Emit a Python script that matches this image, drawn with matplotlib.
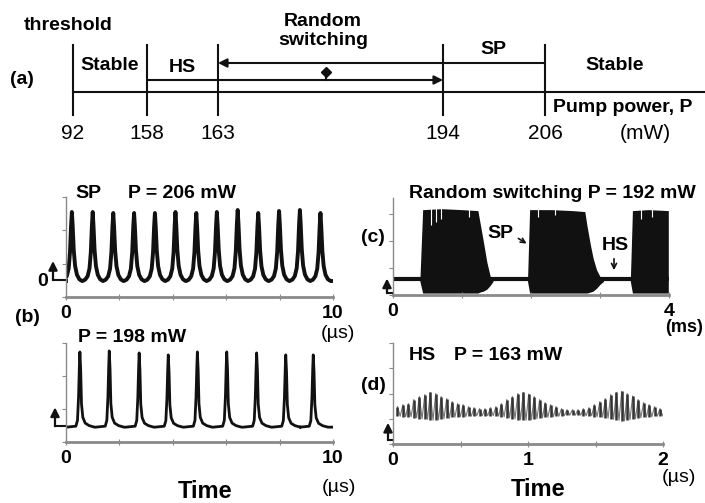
import numpy as np
import matplotlib
matplotlib.use("Agg")
import matplotlib.pyplot as plt

plt.rcParams['font.family'] = ['Liberation Sans', 'DejaVu Sans']

W, H = 705, 503

# (a) pump power thresholds (mW) and the regime names between them
powers = [92, 158, 163, 194, 206]
regimes = ["Stable", "HS", "SP", "Stable"]

# (b) top: SP regime, P = 206 mW. Pulse peak times (us) and peak levels
sp_peak_t = [0.22, 1.00, 1.77, 2.55, 3.33, 4.10, 4.88, 5.65, 6.43, 7.20, 7.98, 8.76, 9.53]
sp_peak_y = [0.85, 0.85, 0.84, 0.84, 0.84, 0.85, 0.84, 0.85, 0.87, 0.84, 0.86, 0.87, 0.84]
sp_base = 0.16
# one pulse: offset from peak (us) and normalised level
sp_shape_dt = [-0.38, -0.28, -0.19, -0.12, -0.07, -0.03, 0.0, 0.03, 0.07, 0.12, 0.19, 0.28, 0.38]
sp_shape = [0.0, 0.02, 0.07, 0.18, 0.42, 0.80, 1.0, 0.80, 0.45, 0.22, 0.09, 0.025, 0.0]

# (b) bottom: P = 198 mW
p198_peak_t = [0.52, 1.62, 2.74, 3.83, 4.92, 6.02, 7.14, 8.23, 9.26]
p198_peak_y = [0.91, 0.92, 0.90, 0.88, 0.91, 0.91, 0.90, 0.88, 0.88]
p198_base = 0.15
p198_shape_dt = [-0.5, -0.15, -0.09, -0.05, -0.02, 0.0, 0.03, 0.06, 0.11, 0.2, 0.35, 0.55]
p198_shape = [0.0, 0.013, 0.09, 0.4, 0.8, 1.0, 0.76, 0.31, 0.13, 0.053, 0.02, 0.0]

# (c) random switching, P = 192 mW: burst envelopes (ms)
burst_t = [
    [0.39, 0.43, 0.70, 1.00, 1.23, 1.26, 1.31, 1.36, 1.41, 1.45],
    [1.95, 1.98, 2.30, 2.60, 2.78, 2.81, 2.86, 2.90, 2.95, 3.00, 3.05],
    [3.44, 3.47, 3.70, 3.99],
]
burst_top = [
    [0.16, 0.88, 0.89, 0.88, 0.87, 0.75, 0.55, 0.34, 0.19, 0.16],
    [0.16, 0.88, 0.88, 0.87, 0.86, 0.72, 0.52, 0.38, 0.26, 0.19, 0.16],
    [0.16, 0.87, 0.88, 0.87],
]
burst_bot = [
    [0.14, 0.02, 0.02, 0.02, 0.02, 0.03, 0.04, 0.06, 0.10, 0.14],
    [0.14, 0.02, 0.02, 0.02, 0.02, 0.02, 0.03, 0.04, 0.07, 0.11, 0.14],
    [0.14, 0.02, 0.02, 0.02],
]
hs_level = 0.16
gap_t = [0.55, 0.62, 0.70, 1.10, 2.10, 2.35, 3.60, 3.75]
gap_low = [0.72, 0.75, 0.78, 0.80, 0.80, 0.82, 0.78, 0.80]

# (d) HS regime, P = 163 mW: top and bottom of each fast oscillation cycle
hs_top = [0.37, 0.39, 0.40, 0.44, 0.47, 0.49, 0.51, 0.50, 0.47, 0.45, 0.42, 0.40,
          0.39, 0.37, 0.36, 0.35, 0.35, 0.36, 0.37, 0.40, 0.44, 0.47, 0.50, 0.51,
          0.495, 0.47, 0.44, 0.41, 0.39, 0.37, 0.35, 0.34, 0.34, 0.34, 0.35, 0.36,
          0.39, 0.42, 0.45, 0.49, 0.51, 0.52, 0.50, 0.475, 0.44, 0.41, 0.39, 0.37, 0.35]
hs_bot = [0.275, 0.27, 0.27, 0.26, 0.25, 0.245, 0.235, 0.24, 0.25, 0.255, 0.265, 0.27,
          0.27, 0.275, 0.28, 0.28, 0.28, 0.28, 0.275, 0.27, 0.26, 0.25, 0.24, 0.235,
          0.24, 0.25, 0.26, 0.265, 0.27, 0.275, 0.28, 0.285, 0.285, 0.285, 0.28, 0.28,
          0.27, 0.265, 0.255, 0.245, 0.235, 0.23, 0.24, 0.25, 0.26, 0.265, 0.27, 0.275, 0.28]
hs_t_start, hs_t_end = 0.033, 1.978

GRAY = "#8a8a8a"
INK = "#111111"


def pos(left, top, right, bottom):
    return [left / W, 1 - bottom / H, (right - left) / W, (bottom - top) / H]


def ftext(x, y, s, **kw):
    kw.setdefault("ha", "center")
    kw.setdefault("va", "center")
    fig.text(x / W, 1 - y / H, s, **kw)


def pulse_trace(peaks, heights, base, dt, shape, t_end):
    t = [0.0]
    y = [base]
    for p, h in zip(peaks, heights):
        for d, s in zip(dt, shape):
            t.append(p + d)
            y.append(base + s * (h - base))
    t.append(t_end)
    y.append(base)
    return np.array(t), np.array(y)


def style_axes(ax, xticks, xlabels, yticks):
    for s in ["top", "right"]:
        ax.spines[s].set_visible(False)
    ax.spines["left"].set_color(GRAY)
    ax.spines["left"].set_linewidth(1.0)
    ax.spines["bottom"].set_color(GRAY)
    ax.spines["bottom"].set_linewidth(2.0)
    ax.set_xticks(xticks)
    ax.set_xticklabels(xlabels, fontsize=14, fontweight="bold")
    ax.set_yticks(yticks)
    ax.set_yticklabels([])
    ax.tick_params(axis="x", direction="inout", length=5, color=GRAY, pad=3)
    ax.tick_params(axis="y", direction="out", length=3, color=GRAY)
    ax.set_ylim(0, 1)


def ground_marker(ax, off_px, y0, y1):
    # oscilloscope zero-level marker left of the axis
    bb = ax.get_position()
    xf = off_px / (bb.width * W)
    ax.plot([xf, 0], [y0, y0], color=INK, lw=1.5, transform=ax.transAxes, clip_on=False)
    ax.annotate("", xy=(xf, y1), xytext=(xf, y0), xycoords="axes fraction",
                arrowprops=dict(arrowstyle="-|>", color=INK, lw=1.6,
                                mutation_scale=13, shrinkA=0, shrinkB=0))


fig = plt.figure(figsize=(W / 100, H / 100), dpi=100)

# ---------------- (a) regime diagram ----------------
axa = fig.add_axes([0, 1 - 160 / H, 1, 160 / H])
axa.set_xlim(0, W)
axa.set_ylim(160, 0)
axa.axis("off")
power_x = [73, 147, 218, 443, 545]  # schematic (non-linear) layout
for px_ in power_x:
    axa.plot([px_, px_], [45, 115], color=INK, lw=1.5)
axa.plot([power_x[0], W], [92, 92], color=INK, lw=1.5)
axa.annotate("", xy=(power_x[2], 63), xytext=(power_x[4], 63),
             arrowprops=dict(arrowstyle="-|>", color=INK, lw=1.5, mutation_scale=13,
                             shrinkA=0, shrinkB=0))
axa.annotate("", xy=(power_x[3], 80), xytext=(power_x[1], 80),
             arrowprops=dict(arrowstyle="-|>", color=INK, lw=1.5, mutation_scale=13,
                             shrinkA=0, shrinkB=0))
axa.plot([326, 326], [72, 80], color=INK, lw=1.5)
axa.plot([326], [72], marker="D", color=INK, ms=5)
for p, x in zip(powers, power_x):
    axa.text(x, 133, str(p), ha="center", va="center", fontsize=15)
axa.text(645, 133, "(mW)", ha="center", va="center", fontsize=15)
bold = dict(ha="center", va="center", fontsize=14, fontweight="bold")
axa.text(68, 25, "threshold", **bold)
axa.text(323, 31, "Random\nswitching", linespacing=1.15, **bold)
axa.text(110, 65, regimes[0], **bold)
axa.text(182, 68, regimes[1], **bold)
axa.text(493, 50, regimes[2], **bold)
axa.text(615, 66, regimes[3], **bold)
axa.text(22, 80, "(a)", **bold)
axa.text(553, 107, "Pump power, P", ha="left", va="center", fontsize=14, fontweight="bold")

# ---------------- (b) top ----------------
axb1 = fig.add_axes(pos(66, 197, 333, 297))
t, y = pulse_trace(sp_peak_t, sp_peak_y, sp_base, sp_shape_dt, sp_shape, 10)
axb1.plot(t, y, color=INK, lw=2.8)
axb1.set_xlim(0, 10)
style_axes(axb1, [0, 2, 4, 6, 8, 10], ["0", "", "", "", "", "10"], [0, 1 / 3, 2 / 3, 1])
ground_marker(axb1, -13, 0.17, 0.36)

# ---------------- (b) bottom ----------------
axb2 = fig.add_axes(pos(66, 343, 333, 442))
t, y = pulse_trace(p198_peak_t, p198_peak_y, p198_base, p198_shape_dt, p198_shape, 10)
axb2.plot(t, y, color=INK, lw=2.0)
axb2.set_xlim(0, 10)
style_axes(axb2, [0, 2, 4, 6, 8, 10], ["0", "", "", "", "", "10"], [0, 1 / 3, 2 / 3, 1])
ground_marker(axb2, -11, 0.16, 0.35)

# ---------------- (c) ----------------
axc = fig.add_axes(pos(393, 198, 669, 295))
axc.plot([0, 4], [hs_level, hs_level], color=INK, lw=3)
for bt, btop, bbot in zip(burst_t, burst_top, burst_bot):
    axc.fill_between(bt, bbot, btop, color=INK, lw=0)
axc.vlines(gap_t, gap_low, 0.9, color="white", lw=0.8)
axc.set_xlim(0, 4)
style_axes(axc, [0, 1, 2, 3, 4], ["0", "", "", "", "4"], [0, 0.28, 0.56, 0.84])
ground_marker(axc, -6, 0.02, 0.17)

# ---------------- (d) ----------------
axd = fig.add_axes(pos(393, 343, 663, 444))
ht = np.linspace(hs_t_start, hs_t_end, len(hs_top))
half = (ht[1] - ht[0]) / 2
zig_t = np.ravel(np.column_stack([ht, ht + half]))
zig_y = np.ravel(np.column_stack([hs_top, hs_bot]))
axd.plot(zig_t, zig_y, color="#777777", lw=0.8)
axd.vlines(ht, hs_bot, hs_top, color="#333333", lw=1.8)
axd.set_xlim(0, 2)
style_axes(axd, [0, 0.5, 1, 1.5, 2], ["0", "", "1", "", "2"], [0, 0.25, 0.5, 0.75, 1])
ground_marker(axd, -5, 0.04, 0.21)

# ---------------- labels ----------------
b14 = dict(fontsize=14, fontweight="bold")
ftext(88, 193, "SP", **b14)
ftext(182, 193, "P = 206 mW", **b14)
ftext(43, 282, "0", **b14)
ftext(27, 318, "(b)", **b14)
ftext(338, 333, "(\u00b5s)", fontsize=14)
ftext(132, 338, "P = 198 mW", **b14)
ftext(339, 487, "(\u00b5s)", fontsize=14)
ftext(205, 492, "Time", fontsize=17, fontweight="bold")

ftext(552, 193, "Random switching P = 192 mW", **b14)
ftext(373, 238, "(c)", **b14)
ftext(500, 234, "SP", **b14)
fig.add_artist(matplotlib.patches.FancyArrowPatch(
    (516 / W, 1 - 237 / H), (529 / W, 1 - 245 / H), transform=fig.transFigure,
    arrowstyle="->", mutation_scale=8, color=INK, lw=1.2))
ftext(615, 245, "HS", **b14)
fig.add_artist(matplotlib.patches.FancyArrowPatch(
    (614 / W, 1 - 256 / H), (614 / W, 1 - 273 / H), transform=fig.transFigure,
    arrowstyle="->", mutation_scale=9, color=INK, lw=1.2))
ftext(684, 327, "(ms)", fontsize=13, fontweight="bold")

ftext(422, 355, "HS", **b14)
ftext(508, 355, "P = 163 mW", **b14)
ftext(373, 385, "(d)", **b14)
ftext(679, 477, "(\u00b5s)", fontsize=14)
ftext(538, 490, "Time", fontsize=17, fontweight="bold")

fig.savefig("out.png", dpi=100)
